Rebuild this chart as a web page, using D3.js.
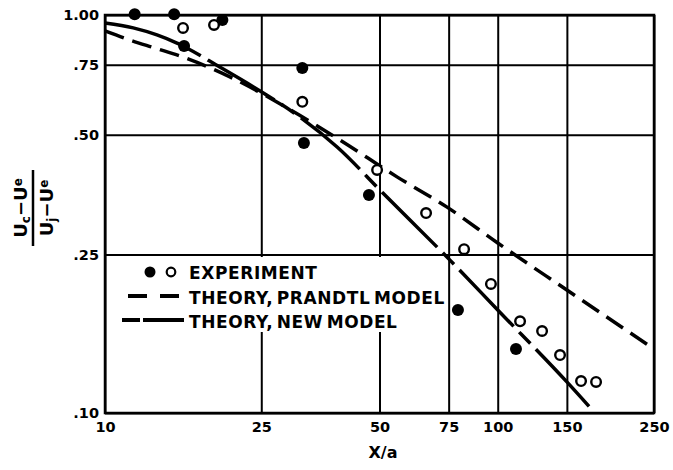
<!DOCTYPE html>
<html>
<head>
<meta charset="utf-8">
<script src="https://cdn.jsdelivr.net/npm/d3@7"></script>
<style>
  html, body { margin: 0; padding: 0; background: #fff; }
  svg { display: block; }
  text { font-family: "DejaVu Sans", sans-serif; font-weight: bold; fill: #000; }
</style>
</head>
<body>
<svg id="chart" width="673" height="470"></svg>
<script>
// ---- data ----
const xTicks = [10, 25, 50, 75, 100, 150, 250];
const xTickLabels = ["10", "25", "50", "75", "100", "150", "250"];
const yTicks = [0.10, 0.25, 0.50, 0.75, 1.00];
const yTickLabels = [".10", ".25", ".50", ".75", "1.00"];

// Experiment, filled symbols
const filledX = [11.9, 15.0, 15.9, 19.9, 31.8, 32.1, 47.0, 79.2, 111.3];
const filledY = [1.005, 1.005, 0.836, 0.972, 0.736, 0.477, 0.353, 0.1815, 0.1448];
// Experiment, open symbols
const openX = [15.8, 18.95, 31.8, 49.3, 65.7, 82.1, 96.1, 114.0, 129.7, 144.1, 163.0, 178.0];
const openY = [0.928, 0.944, 0.605, 0.408, 0.318, 0.258, 0.211, 0.170, 0.1607, 0.1398, 0.1203, 0.1197];

// Theory, Prandtl model
const prandtlX = [10, 11.58, 13.4, 15.8, 20.8, 29.1, 39.7, 55.4, 74.3, 100, 150, 250];
const prandtlY = [0.912, 0.865, 0.826, 0.784, 0.699, 0.584, 0.485, 0.392, 0.329, 0.2674, 0.2037, 0.1448];

// Theory, new model
const newX = [10, 11.8, 13.56, 15.25, 19.6, 25.3, 30.8, 39.0, 51.0, 74.7, 100, 150, 175.9];
const newY = [0.955, 0.928, 0.891, 0.85, 0.740, 0.637, 0.561, 0.466, 0.357, 0.245, 0.1815, 0.1197, 0.1006];

const legendLabels = ["EXPERIMENT", "THEORY, PRANDTL MODEL", "THEORY, NEW MODEL"];

// ---- layout ----
const L = 105, R = 654, T = 15, B = 413;
const svg = d3.select("#chart");
const x = d3.scaleLog().domain([10, 250]).range([L, R]);
const y = d3.scaleLog().domain([0.1, 1]).range([B, T]);

// grid + axes
const gx = svg.append("g").attr("transform", `translate(0,${B})`)
  .call(d3.axisBottom(x).tickValues(xTicks)
    .tickFormat((d, i) => xTickLabels[i])
    .tickSizeInner(-(B - T)).tickSizeOuter(0).tickPadding(9));
gx.select(".domain").remove();
gx.selectAll(".tick line").attr("stroke", "#000").attr("stroke-width", 2);
gx.selectAll(".tick text").attr("font-size", 14.5).attr("font-family", "DejaVu Sans").attr("font-weight", "bold");

const gy = svg.append("g").attr("transform", `translate(${L},0)`)
  .call(d3.axisLeft(y).tickValues(yTicks)
    .tickFormat((d, i) => yTickLabels[i])
    .tickSizeInner(-(R - L)).tickSizeOuter(0).tickPadding(6));
gy.select(".domain").remove();
gy.selectAll(".tick line").attr("stroke", "#000").attr("stroke-width", 2);
gy.selectAll(".tick text").attr("font-size", 14.5).attr("font-family", "DejaVu Sans").attr("font-weight", "bold");

// legend background covering grid
svg.append("rect").attr("x", 109).attr("y", 257).attr("width", 332).attr("height", 75).attr("fill", "#fff");

// frame
svg.append("rect").attr("x", L).attr("y", T).attr("width", R - L).attr("height", B - T)
  .attr("fill", "none").attr("stroke", "#000").attr("stroke-width", 2.5);

// curves
const line = d3.line().x(d => x(d[0])).y(d => y(d[1])).curve(d3.curveMonotoneX);
svg.append("path").datum(prandtlX.map((v, i) => [v, prandtlY[i]]))
  .attr("d", line).attr("fill", "none").attr("stroke", "#000")
  .attr("stroke-width", 3.5).attr("stroke-dasharray", "20,9");
svg.append("path").datum(newX.map((v, i) => [v, newY[i]]))
  .attr("d", line).attr("fill", "none").attr("stroke", "#000")
  .attr("stroke-width", 3.5).attr("stroke-dasharray", "78,8,16,8");

// points
svg.append("g").selectAll("circle").data(filledX.map((v, i) => [v, filledY[i]]))
  .join("circle").attr("cx", d => x(d[0])).attr("cy", d => y(d[1])).attr("r", 6).attr("fill", "#000");
svg.append("g").selectAll("circle").data(openX.map((v, i) => [v, openY[i]]))
  .join("circle").attr("cx", d => x(d[0])).attr("cy", d => y(d[1])).attr("r", 4.8)
  .attr("fill", "#fff").attr("stroke", "#000").attr("stroke-width", 2.4);

// legend
const lg = svg.append("g");
lg.append("circle").attr("cx", 150).attr("cy", 272).attr("r", 5.5).attr("fill", "#000");
lg.append("circle").attr("cx", 171).attr("cy", 272).attr("r", 4.3).attr("fill", "#fff").attr("stroke", "#000").attr("stroke-width", 2.2);
lg.append("line").attr("x1", 128).attr("x2", 184).attr("y1", 296).attr("y2", 296)
  .attr("stroke", "#000").attr("stroke-width", 4).attr("stroke-dasharray", "19,13");
lg.append("line").attr("x1", 122).attr("x2", 184).attr("y1", 320).attr("y2", 320)
  .attr("stroke", "#000").attr("stroke-width", 4).attr("stroke-dasharray", "18,3,60");
lg.selectAll("text.leg").data(legendLabels).join("text").attr("class", "leg")
  .attr("x", 189).attr("y", (d, i) => 279 + i * 24.5)
  .attr("font-size", 17).attr("letter-spacing", 0.6).attr("word-spacing", -3).text(d => d);

// x axis title
svg.append("text").attr("x", 383).attr("y", 458).attr("text-anchor", "middle")
  .attr("font-size", 16).text("X/a");

// y axis title (rotated fraction)
const yl = svg.append("g").attr("transform", "translate(33,208) rotate(-90)");
const num = yl.append("text").attr("x", 0).attr("y", -6).attr("text-anchor", "middle").attr("font-size", 18);
num.append("tspan").text("U");
num.append("tspan").attr("font-size", 12).attr("dy", 3).text("c");
num.append("tspan").attr("dy", -3).text("−U");
num.append("tspan").attr("font-size", 12).attr("dy", -5).text("e");
yl.append("line").attr("x1", -38).attr("x2", 38).attr("y1", 0).attr("y2", 0)
  .attr("stroke", "#000").attr("stroke-width", 2.5);
const den = yl.append("text").attr("x", 0).attr("y", 20).attr("text-anchor", "middle").attr("font-size", 18);
den.append("tspan").text("U");
den.append("tspan").attr("font-size", 12).attr("dy", 3).text("j");
den.append("tspan").attr("dy", -3).text("−U");
den.append("tspan").attr("font-size", 12).attr("dy", -5).text("e");
</script>
</body>
</html>
